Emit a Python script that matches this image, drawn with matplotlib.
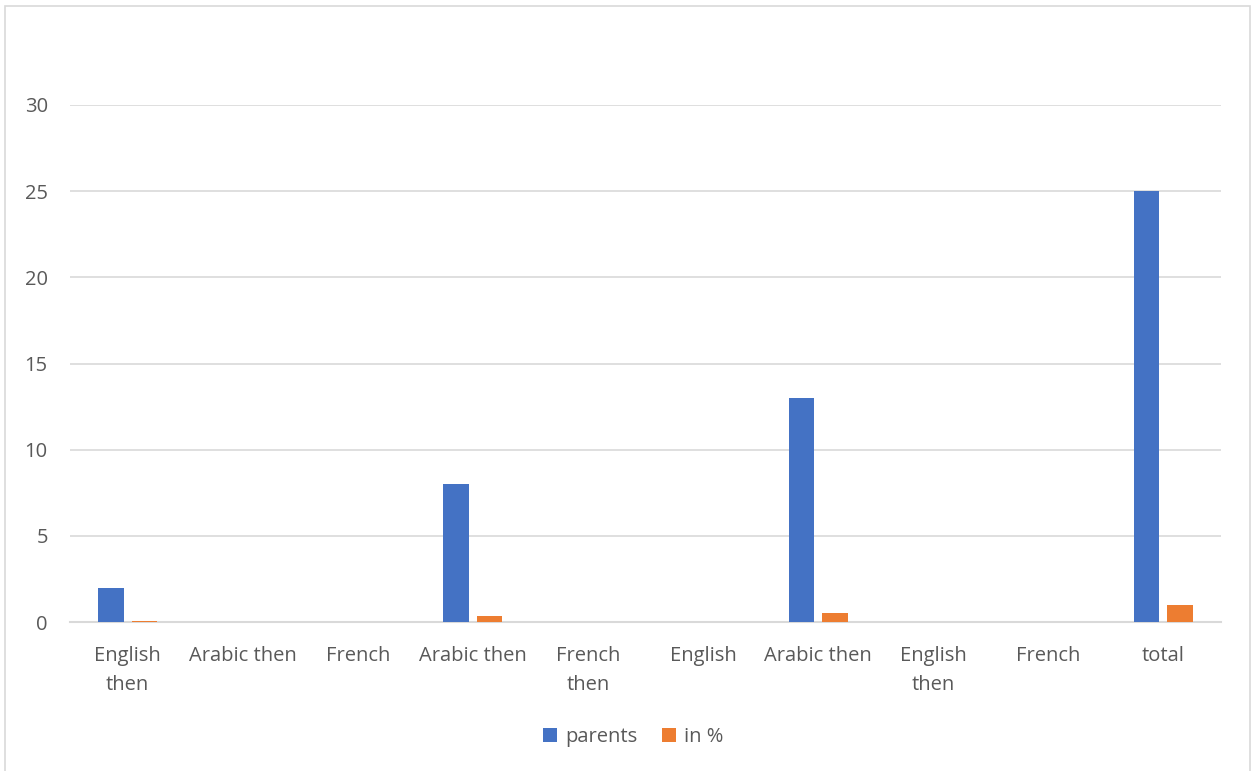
import numpy as np
import matplotlib
matplotlib.use('Agg')
import matplotlib.pyplot as plt
from matplotlib.patches import Rectangle

plt.rcParams['font.family'] = ['Open Sans', 'DejaVu Sans']

# 数据
categories = ['English\nthen', 'Arabic then', 'French', 'Arabic then', 'French\nthen',
              'English', 'Arabic then', 'English\nthen', 'French', 'total']
parents = [2, 0, 0, 8, 0, 0, 13, 0, 0, 25]
in_pct = [0.08, 0, 0, 0.32, 0, 0, 0.52, 0, 0, 1.0]
yticks = [0, 5, 10, 15, 20, 25, 30]

text_color = '#595959'
grid_color = '#D9D9D9'

fig = plt.figure(figsize=(12.53, 7.71), dpi=100)
ax = fig.add_axes((70 / 1253, 1 - 622 / 771, 1151 / 1253, 517 / 771))

x = np.arange(len(categories))
w = 0.22
ax.bar(x - 0.145, parents, w, color='#4472C4', label='parents', zorder=3)
ax.bar(x + 0.145, in_pct, w, color='#ED7D31', label='in %', zorder=3)

ax.set_xlim(-0.5, len(categories) - 0.5)
ax.set_ylim(0, 30)
ax.set_yticks(yticks)
ax.set_xticks(x)
ax.set_xticklabels(categories, linespacing=1.6)
ax.tick_params(axis='both', length=0, labelsize=14.5, colors=text_color)
ax.tick_params(axis='x', pad=17)
ax.tick_params(axis='y', pad=16)
ax.yaxis.grid(True, color=grid_color, linewidth=1.2, zorder=0)
for s in ['top', 'right', 'left']:
    ax.spines[s].set_visible(False)
ax.spines['bottom'].set_color(grid_color)
ax.spines['bottom'].set_linewidth(1.5)

# 图例
leg = fig.legend(loc='center', bbox_to_anchor=(633 / 1253, 1 - 737 / 771), ncol=2,
                 frameon=False, fontsize=14.5, handlelength=0.7, handleheight=0.7,
                 handletextpad=0.4, columnspacing=1.2)
for t in leg.get_texts():
    t.set_color(text_color)

# 外框
fig.patches.append(Rectangle((5 / 1253, -0.01), 1245 / 1253, 1 - 6 / 771 + 0.01,
                             transform=fig.transFigure, fill=False,
                             edgecolor=grid_color, linewidth=1.2))

fig.savefig('out.png', dpi=100)
